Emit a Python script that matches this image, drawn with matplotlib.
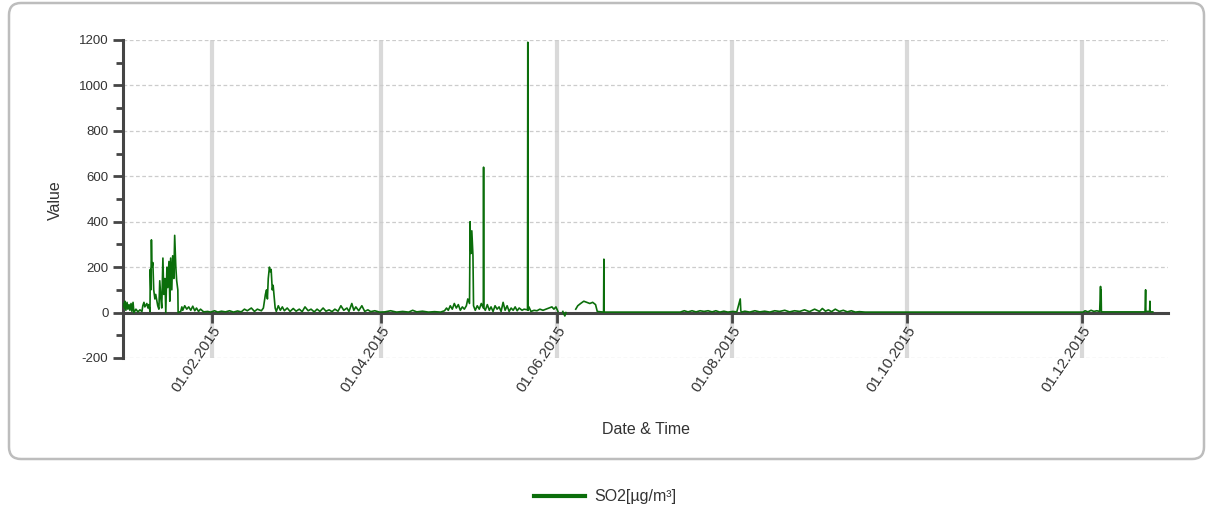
import numpy as np
import pandas as pd
import matplotlib
matplotlib.use("Agg")
import matplotlib.pyplot as plt
import matplotlib.dates as mdates
from matplotlib.ticker import MultipleLocator
from matplotlib.patches import FancyBboxPatch

# SO2 readings, 2015 -- day offset from 01.01.2015 and value in ug/m3
# nan marks gaps in the record
jan_days = [0, 0.5, 0.7, 1.0, 1.4, 1.7, 2.1, 2.4, 2.8, 3.1, 3.5, 3.8, 4.5, 5.2, 5.9, 6.6,
            6.9, 7.3, 7.6, 8.3, 8.7, 9.0, 9.4, 9.5, 9.7, 9.9, 10.1, 10.4, 10.7, 11.1, 11.4,
            11.8, 12.1, 12.5, 12.8, 13.2, 13.5, 13.9, 14.2, 14.6, 14.9, 15.3, 15.6, 16.0,
            16.3, 16.6, 17.0, 17.3, 17.7, 18.0, 18.4, 18.7, 19.1, 19.2, 20.1, 20.5, 20.8,
            21.5, 22.2, 22.9, 23.6, 24.3, 25.0, 25.6, 26.3, 27.0, 28.1, 29.5, 30.5]
jan_vals = [40, 20, 50, 10, 45, 15, 35, 10, 40, 5, 45, 0, 15, 3, 12, 5,
            30, 45, 25, 40, 20, 35, 5, 190, 100, 320, 200, 220, 100, 60, 80,
            50, 30, 15, 140, 60, 20, 240, 80, 150, 0, 200, 110, 225,
            50, 240, 100, 250, 150, 340, 200, 140, 100, 0, 5, 25, 10,
            30, 15, 25, 10, 28, 8, 20, 5, 15, 3, 5, 2]

feb_mar_days = [31.9, 33.0, 34.3, 35.7, 37.1, 38.5, 39.9, 41.2, 42.3, 43.3, 44.7, 45.8,
                46.8, 48.2, 48.9, 49.6, 50.0, 50.3, 50.6, 51.0, 51.3, 51.6, 52.0, 52.3,
                52.7, 53.0, 53.4, 54.1, 54.8, 55.5, 56.2, 57.2, 58.2, 59.3, 60.3, 61.4,
                62.4, 63.4, 64.5, 65.5, 66.6, 67.6, 68.6, 69.7, 70.7, 71.8, 72.8, 73.8,
                74.9, 75.9, 76.9, 78.0, 78.7, 79.7, 80.4, 81.1, 82.1, 83.2, 84.2, 85.3,
                86.3, 87.7, 89.4]
feb_mar_vals = [8, 2, 6, 3, 8, 2, 7, 3, 15, 8, 20, 5,
                15, 8, 20, 80, 100, 60, 150, 200, 180, 190, 100, 120,
                60, 20, 5, 30, 10, 25, 8, 20, 5, 18, 6, 15,
                4, 25, 8, 15, 3, 15, 5, 20, 6, 12, 4, 15,
                6, 30, 10, 20, 5, 40, 10, 25, 8, 30, 5, 12,
                4, 8, 2]

apr_jun_days = [91.2, 93.2, 95.3, 97.4, 99.5, 100.9, 102.3, 104.3, 106.4, 108.5, 110.6,
                112.0, 112.7, 113.3, 114.0, 114.7, 115.4, 116.1, 116.8, 117.5, 118.2,
                118.9, 119.6, 120.1, 120.7, 120.9, 121.0, 121.2, 121.5, 121.9, 122.1,
                122.7, 123.4, 124.1, 124.8, 125.5, 125.6, 125.7, 126.2, 126.9, 127.6,
                128.2, 128.9, 129.6, 130.3, 131.0, 131.7, 132.4, 133.1, 133.8, 134.5,
                135.2, 135.9, 136.6, 137.3, 138.0, 139.0, 139.7, 140.9, 141.0, 141.1,
                141.4, 142.1, 143.2, 144.2, 145.2, 146.3, 147.3, 148.4, 149.4, 150.1,
                150.8, 151.5, 152.0, 153.2, 153.9, 154.3, 155.0, 157.7, 158.4, 159.4,
                160.5, 161.5, 162.6, 163.6, 164.6, 165.2, 167.4, 167.5, 167.6, 168.0]
apr_jun_vals = [3, 8, 2, 5, 2, 10, 3, 6, 2, 4, 2,
                8, 20, 10, 30, 15, 40, 20, 35, 10, 25,
                15, 30, 60, 40, 400, 300, 260, 360, 250, 30,
                10, 30, 15, 40, 20, 640, 20, 10, 35, 10,
                25, 5, 30, 15, 25, 5, 45, 10, 30, 5,
                20, 10, 25, 8, 20, 10, 15, 12, 1190, 10,
                25, 5, 10, 8, 15, 10, 15, 20, 25, 15,
                25, 5, np.nan, 5, -15, 0, np.nan, 15, 30, 40,
                50, 45, 40, 45, 35, 5, 2, 235, 2, 2]

jul_dec_days = [194.1, 195.5, 196.8, 198.2, 199.6, 201.0, 202.4, 203.8, 205.2, 206.5,
                207.9, 209.3, 210.7, 212.4, 213.8, 215.0, 215.1, 215.2, 215.4, 216.6,
                218.3, 220.1, 221.8, 223.5, 225.3, 227.0, 228.7, 230.5, 232.2, 233.9,
                235.7, 237.4, 239.1, 240.9, 242.6, 243.6, 244.7, 245.7, 246.8, 248.1,
                249.5, 250.9, 252.3, 253.7, 255.1, 256.5, 258.5, 259.9, 334.4, 335.1,
                336.1, 337.2, 338.2, 339.2, 340.2, 340.5, 340.6, 340.7, 340.8, 356.0,
                356.2, 356.3, 357.6, 357.7, 357.8, 358.7]
jul_dec_vals = [2, 8, 3, 8, 3, 8, 5, 8, 3, 8,
                2, 6, 2, 5, 3, 60, 35, 8, 2, 6,
                2, 8, 3, 6, 2, 8, 5, 10, 3, 8,
                5, 12, 4, 15, 5, 18, 6, 12, 4, 15,
                5, 10, 3, 8, 2, 4, 2, 2, 2, 8,
                3, 10, 5, 8, 5, 115, 60, 100, 3, 3,
                100, 5, 5, 50, 3, 3]

series_name = "SO2[µg/m³]"
tick_dates = ["2015-02-01", "2015-04-01", "2015-06-01", "2015-08-01", "2015-10-01", "2015-12-01"]

days = np.array(jan_days + feb_mar_days + apr_jun_days + jul_dec_days, dtype=float)
vals = np.array(jan_vals + feb_mar_vals + apr_jun_vals + jul_dec_vals, dtype=float)
times = pd.Timestamp("2015-01-01") + pd.to_timedelta(days, unit="D")

plt.rcParams["font.family"] = ["Liberation Sans", "DejaVu Sans"]
plt.rcParams["axes.unicode_minus"] = False

fig = plt.figure(figsize=(12.22, 5.15), dpi=100)
ax = fig.add_axes([123 / 1222, 157 / 515, 1045 / 1222, 318 / 515])

# rounded frame around the plot area
frame = FancyBboxPatch((9, 56), 1195, 456, boxstyle="round,pad=0,rounding_size=12",
                       transform=None, facecolor="white", edgecolor="#bdbdbd", lw=1.8,
                       zorder=-10)
fig.patches.append(frame)
ax.set_facecolor("none")

line, = ax.plot(times, vals, color="#0b6e0b", lw=1.2, zorder=3, label=series_name)

ax.set_xlim(pd.Timestamp("2015-01-01"), pd.Timestamp("2015-12-31"))
ax.set_ylim(-200, 1200)
ax.yaxis.set_major_locator(MultipleLocator(200))
ax.yaxis.set_minor_locator(MultipleLocator(100))
ax.set_xticks(pd.to_datetime(tick_dates))
ax.xaxis.set_major_formatter(mdates.DateFormatter("%d.%m.%Y"))

for side in ["top", "right"]:
    ax.spines[side].set_visible(False)
ax.spines["bottom"].set_position(("data", 0))
ax.spines["left"].set_color("#454545")
ax.spines["bottom"].set_color("#454545")
ax.spines["left"].set_linewidth(2.2)
ax.spines["bottom"].set_linewidth(2.2)

ax.tick_params(axis="y", which="major", length=7, width=2, color="#454545",
               labelsize=9.5, labelcolor="#333333")
ax.tick_params(axis="y", which="minor", length=5, width=2, color="#454545")
ax.tick_params(axis="x", which="major", length=7, width=2, color="#454545",
               labelsize=11, labelcolor="#333333", pad=1)
for lab in ax.get_xticklabels():
    lab.set_rotation(56)
    lab.set_ha("right")
    lab.set_va("top")
    lab.set_rotation_mode("anchor")

ax.set_axisbelow(True)
ax.grid(axis="x", color="#d9d9d9", lw=3, ls="-")
ax.grid(axis="y", which="major", color="#cccccc", lw=0.9, ls=(0, (3, 2)))

fig.text(55 / 1222, 1 - 200 / 515, "Value", rotation=90, ha="center", va="center",
         fontsize=11.5, color="#333333")
fig.text(646 / 1222, 1 - 430 / 515, "Date & Time", ha="center", va="center",
         fontsize=11.5, color="#333333")

fig.legend(handles=[line], loc="center", bbox_to_anchor=(605 / 1222, 1 - 497 / 515),
           frameon=False, fontsize=11.5, handlelength=3.2, handletextpad=0.6,
           labelcolor="#333333")
leg = fig.legends[0]
leg.get_lines()[0].set_linewidth(3)

fig.savefig("out.png", dpi=100)
